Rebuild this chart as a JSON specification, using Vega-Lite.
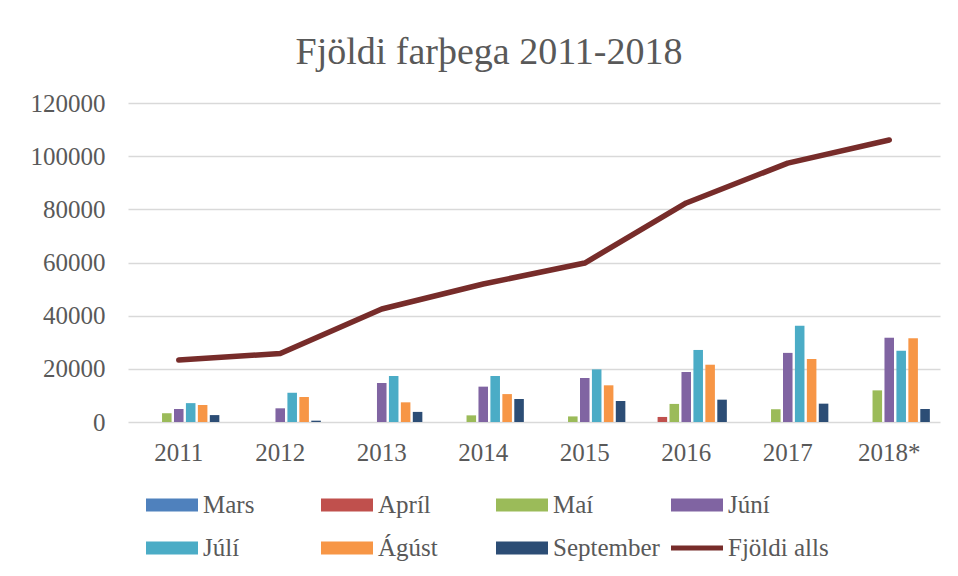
{
  "$schema": "https://vega.github.io/schema/vega-lite/v6.json",
  "width": 812,
  "height": 319,
  "autosize": {"type": "none"},
  "padding": {"left": 128, "top": 103, "right": 18, "bottom": 154},
  "background": "white",
  "title": {
    "text": "Fjöldi farþega 2011-2018",
    "font": "Liberation Serif",
    "fontSize": 38,
    "fontWeight": "normal",
    "color": "#595959",
    "anchor": "middle",
    "dx": -45,
    "offset": -11,
    "baseline": "alphabetic"
  },
  "config": {
    "view": {"stroke": null},
    "axis": {
      "labelFont": "Liberation Serif",
      "labelFontSize": 25,
      "labelColor": "#595959",
      "title": null,
      "domain": false,
      "ticks": false,
      "tickSize": 0
    }
  },
  "datasets": {
    "months": [
      {"year": "2011", "series": "Maí", "value": 3300},
      {"year": "2011", "series": "Júní", "value": 4900},
      {"year": "2011", "series": "Júlí", "value": 7100},
      {"year": "2011", "series": "Ágúst", "value": 6400},
      {"year": "2011", "series": "September", "value": 2600},
      {"year": "2012", "series": "Júní", "value": 5150},
      {"year": "2012", "series": "Júlí", "value": 11000},
      {"year": "2012", "series": "Ágúst", "value": 9400},
      {"year": "2012", "series": "September", "value": 500},
      {"year": "2013", "series": "Júní", "value": 14700},
      {"year": "2013", "series": "Júlí", "value": 17300},
      {"year": "2013", "series": "Ágúst", "value": 7400},
      {"year": "2013", "series": "September", "value": 3800},
      {"year": "2014", "series": "Maí", "value": 2500},
      {"year": "2014", "series": "Júní", "value": 13300},
      {"year": "2014", "series": "Júlí", "value": 17300},
      {"year": "2014", "series": "Ágúst", "value": 10500},
      {"year": "2014", "series": "September", "value": 8650},
      {"year": "2015", "series": "Maí", "value": 2100},
      {"year": "2015", "series": "Júní", "value": 16550},
      {"year": "2015", "series": "Júlí", "value": 19800},
      {"year": "2015", "series": "Ágúst", "value": 13800},
      {"year": "2015", "series": "September", "value": 7900},
      {"year": "2016", "series": "Apríl", "value": 1900},
      {"year": "2016", "series": "Maí", "value": 6800},
      {"year": "2016", "series": "Júní", "value": 18800},
      {"year": "2016", "series": "Júlí", "value": 27100},
      {"year": "2016", "series": "Ágúst", "value": 21550},
      {"year": "2016", "series": "September", "value": 8400},
      {"year": "2017", "series": "Maí", "value": 4800},
      {"year": "2017", "series": "Júní", "value": 26000},
      {"year": "2017", "series": "Júlí", "value": 36200},
      {"year": "2017", "series": "Ágúst", "value": 23700},
      {"year": "2017", "series": "September", "value": 6900},
      {"year": "2018*", "series": "Maí", "value": 11900},
      {"year": "2018*", "series": "Júní", "value": 31700},
      {"year": "2018*", "series": "Júlí", "value": 26800},
      {"year": "2018*", "series": "Ágúst", "value": 31500},
      {"year": "2018*", "series": "September", "value": 4900}
    ],
    "total": [
      {"year": "2011", "series": "Fjöldi alls", "value": 23300},
      {"year": "2012", "series": "Fjöldi alls", "value": 25800},
      {"year": "2013", "series": "Fjöldi alls", "value": 42500},
      {"year": "2014", "series": "Fjöldi alls", "value": 51900},
      {"year": "2015", "series": "Fjöldi alls", "value": 59800},
      {"year": "2016", "series": "Fjöldi alls", "value": 82400},
      {"year": "2017", "series": "Fjöldi alls", "value": 97400},
      {"year": "2018*", "series": "Fjöldi alls", "value": 106100}
    ]
  },
  "encoding": {
    "x": {
      "field": "year",
      "type": "nominal",
      "scale": {
        "domain": ["2011", "2012", "2013", "2014", "2015", "2016", "2017", "2018*"],
        "paddingInner": 0.2,
        "paddingOuter": 0.1
      },
      "axis": {"labelAngle": 0, "labelPadding": 38, "labelBaseline": "alphabetic", "grid": false}
    },
    "y": {
      "field": "value",
      "type": "quantitative",
      "scale": {"domain": [0, 120000], "nice": false},
      "axis": {
        "values": [0, 20000, 40000, 60000, 80000, 100000, 120000],
        "format": "d",
        "labelPadding": 23,
        "grid": true,
        "gridColor": "#D9D9D9",
        "gridWidth": 1.5
      }
    },
    "color": {
      "field": "series",
      "type": "nominal",
      "scale": {
        "domain": ["Mars", "Apríl", "Maí", "Júní", "Júlí", "Ágúst", "September", "Fjöldi alls"],
        "range": ["#4F81BD", "#C0504D", "#9BBB59", "#8064A2", "#4BACC6", "#F79646", "#2C4D75", "#772C2A"]
      },
      "legend": {
        "title": null,
        "orient": "none",
        "legendX": 18,
        "legendY": 389,
        "direction": "horizontal",
        "columns": 4,
        "padding": 0,
        "gridAlign": "all",
        "columnPadding": 11,
        "rowPadding": 17,
        "symbolSize": 676,
        "labelOffset": 31,
        "labelFont": "Liberation Serif",
        "labelFontSize": 25,
        "labelColor": "#595959",
        "labelLimit": 300,
        "symbolOpacity": 1,
        "encode": {
          "symbols": {
            "update": {
              "shape": {"signal": "datum.value === 'Fjöldi alls' ? 'M-1,-0.2L3,-0.2L3,0.2L-1,0.2Z' : 'M-1,-0.5L3,-0.5L3,0.5L-1,0.5Z'"},
              "fill": {"scale": "color", "field": "value"},
              "stroke": {"value": "transparent"},
              "strokeWidth": {"value": 0},
              "opacity": {"value": 1},
              "fillOpacity": {"value": 1}
            }
          }
        }
      }
    }
  },
  "layer": [
    {
      "data": {"name": "months"},
      "mark": {"type": "bar"},
      "encoding": {
        "xOffset": {
          "field": "series",
          "type": "nominal",
          "scale": {
            "domain": ["Mars", "Apríl", "Maí", "Júní", "Júlí", "Ágúst", "September"],
            "paddingInner": 0.2,
            "paddingOuter": 0
          }
        }
      }
    },
    {
      "data": {"name": "total"},
      "mark": {"type": "line", "strokeWidth": 5.5, "strokeCap": "round", "strokeJoin": "round"},
      "encoding": {}
    }
  ]
}
